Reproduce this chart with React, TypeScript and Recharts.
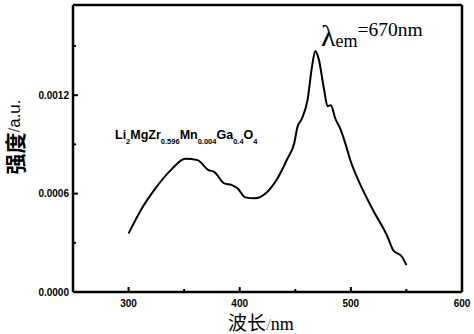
import React from 'react';
import { LineChart, Line, XAxis, YAxis, Customized } from 'recharts';

const wavelengths = [300, 311, 323, 338, 351, 362, 372, 377, 386, 393, 398, 405, 413, 425, 434, 443, 449, 452, 456, 461, 465, 468, 471, 476, 479, 482, 486, 491, 495, 500, 508, 520, 533, 538, 546, 550];
const intensity = [0.000357, 0.000499, 0.000621, 0.000743, 0.000812, 0.000804, 0.000743, 0.000733, 0.000662, 0.000652, 0.000632, 0.000577, 0.000571, 0.000611, 0.000693, 0.000814, 0.000906, 0.001007, 0.001058, 0.00117, 0.001372, 0.00147, 0.001423, 0.00123, 0.001133, 0.001139, 0.001058, 0.000987, 0.000906, 0.000794, 0.000662, 0.000499, 0.000337, 0.000256, 0.000215, 0.000164];

const xTicks = [300, 350, 400, 450, 500, 550, 600];
const xTickLabels = ['300', '', '400', '', '500', '', '600'];
const yTicks = [0, 0.0003, 0.0006, 0.0009, 0.0012, 0.0015];
const yTickLabels = ['0.0000', '', '0.0006', '', '0.0012', ''];
const xDomain = [250, 600];
const yDomain = [0, 0.00175];

const data = wavelengths.map((w, i) => ({ w, v: intensity[i] }));

const tickFont = '"Liberation Sans", Arial, sans-serif';

const W = 474;
const H = 334;
const M = { top: 5, right: 12, bottom: 0, left: 0 };
const Y_AXIS_W = 73;
const X_AXIS_H = 42;

const XTick = (props: any) => {
  const { x, y, payload } = props;
  const idx = xTicks.indexOf(payload.value);
  const label = xTickLabels[idx] || '';
  const len = label ? 5 : 3;
  return (
    <g>
      <line x1={x} y1={y} x2={x} y2={y - len} stroke="#000" strokeWidth={2} />
      {label && (
        <text x={x} y={y + 15} textAnchor="middle" fontFamily={tickFont} fontWeight="bold" fontSize={10} fill="#000">
          {label}
        </text>
      )}
    </g>
  );
};

const YTick = (props: any) => {
  const { x, y, payload } = props;
  const idx = yTicks.findIndex((t) => Math.abs(t - payload.value) < 1e-9);
  const label = yTickLabels[idx] || '';
  const len = label ? 5 : 3;
  return (
    <g>
      <line x1={x} y1={y} x2={x + len} y2={y} stroke="#000" strokeWidth={2} />
      {label && (
        <text x={x - 4} y={y + 3.5} textAnchor="end" fontFamily={tickFont} fontWeight="bold" fontSize={10} fill="#000">
          {label}
        </text>
      )}
    </g>
  );
};

const px = M.left + Y_AXIS_W;
const py = M.top;
const pw = W - M.right - px;
const ph = H - M.bottom - X_AXIS_H - py;

const Annotations = () => (
  <g>
    <text x={14} y={137} transform="rotate(-90 14 137)" textAnchor="middle" dominantBaseline="central" fill="#000">
      <tspan fontFamily='"Noto Sans CJK SC", sans-serif' fontWeight="bold" fontSize={21}>强度</tspan>
      <tspan fontFamily='"Liberation Sans", sans-serif' fontSize={17} fill="#555">/</tspan>
      <tspan fontFamily='"Liberation Sans", sans-serif' fontSize={17}>a.u.</tspan>
    </text>
    <text x={261} y={330} textAnchor="middle" fill="#000">
      <tspan fontFamily='"Noto Sans CJK SC", sans-serif' fontSize={19}>波长</tspan>
      <tspan fontFamily='"Liberation Serif", serif' fontSize={17} fill="#777">/</tspan>
      <tspan fontFamily='"Liberation Serif", serif' fontSize={18}>nm</tspan>
    </text>
    <text x={115} y={139} fontFamily={tickFont} fontWeight="bold" fontSize={12.5} fill="#000">
      <tspan>Li</tspan>
      <tspan fontSize={7.5} dy={5}>2</tspan>
      <tspan dy={-5}>MgZr</tspan>
      <tspan fontSize={7.5} dy={5}>0.596</tspan>
      <tspan dy={-5}>Mn</tspan>
      <tspan fontSize={7.5} dy={5}>0.004</tspan>
      <tspan dy={-5}>Ga</tspan>
      <tspan fontSize={7.5} dy={5}>0.4</tspan>
      <tspan dy={-5}>O</tspan>
      <tspan fontSize={7.5} dy={5}>4</tspan>
    </text>
    <text x={321} y={46} fontFamily='"Liberation Serif", serif' fill="#000">
      <tspan fontSize={30}>λ</tspan>
      <tspan fontSize={18} dy={1}>em</tspan>
      <tspan fontSize={19.5} dy={-11}>=670nm</tspan>
    </text>
  </g>
);

export default function App() {
  return (
    <div style={{ position: 'absolute', left: 0, top: 0, width: W, height: H, background: '#fff' }}>
      <LineChart width={W} height={H} data={data} margin={M}>
        <XAxis
          dataKey="w"
          type="number"
          domain={xDomain}
          ticks={xTicks}
          height={X_AXIS_H}
          axisLine={{ stroke: '#000', strokeWidth: 2.5 }}
          tickLine={false}
          tickSize={0}
          tickMargin={0}
          tick={<XTick />}
          interval={0}
        />
        <YAxis
          type="number"
          domain={yDomain}
          ticks={yTicks}
          width={Y_AXIS_W}
          axisLine={{ stroke: '#000', strokeWidth: 2.5 }}
          tickLine={false}
          tickSize={0}
          tickMargin={0}
          tick={<YTick />}
          interval={0}
        />
        <Line
          type="monotone"
          dataKey="v"
          stroke="#000"
          strokeWidth={2}
          dot={false}
          isAnimationActive={false}
        />
        <Customized component={<Annotations />} />
      </LineChart>
      <svg
        width={W}
        height={H}
        style={{ position: 'absolute', left: 0, top: 0, pointerEvents: 'none' }}
      >
        <line x1={px} y1={py} x2={px + pw} y2={py} stroke="#000" strokeWidth={2.5} />
        <line x1={px + pw} y1={py} x2={px + pw} y2={py + ph} stroke="#000" strokeWidth={2.5} />
      </svg>
    </div>
  );
}
